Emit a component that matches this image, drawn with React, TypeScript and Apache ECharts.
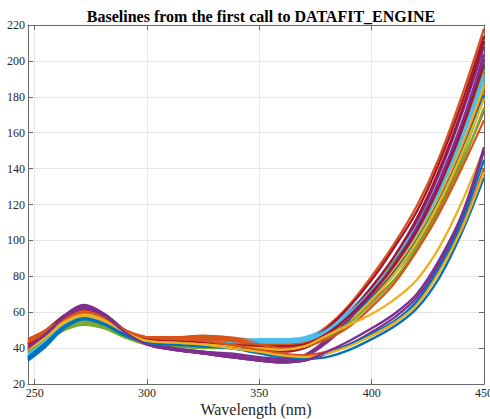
import React, { useEffect, useRef } from "react";
import * as echarts from "echarts";

const titleText = "Baselines from the first call to DATAFIT_ENGINE";
const xAxisName = "Wavelength (nm)";
const xTicks = [250, 300, 350, 400, 450];

const wavelengths = [247, 255, 263, 272, 281, 290, 300, 312, 325, 337, 350, 360, 370, 380, 390, 400, 410, 420, 430, 440, 450];

// Main bundle of baselines (steep rise after 380 nm)
const mainBaselines = [
  [34, 42, 52, 58, 55, 48, 44, 43, 42, 42, 41, 41, 43, 49, 59, 72, 88, 106, 131, 161, 196],
  [45, 50, 57, 61, 57, 50, 46, 46, 47, 46, 44, 43, 45, 52, 64, 80, 98, 119, 146, 180, 218],
  [41, 48, 56, 60, 57, 50, 45, 44, 43, 42, 41, 40, 42, 48, 58, 71, 86, 103, 127, 155, 188],
  [40, 48, 58, 64, 59, 50, 43, 40, 38, 36, 34, 33, 36, 45, 58, 73, 90, 110, 137, 170, 208],
  [38, 44, 50, 53, 51, 46, 42, 41, 40, 40, 39, 39, 41, 46, 55, 67, 81, 97, 119, 146, 180],
  [36, 44, 52, 57, 54, 47, 44, 43, 43, 44, 45, 45, 46, 51, 61, 74, 90, 108, 133, 163, 198],
  [42, 49, 57, 62, 58, 50, 45, 44, 44, 43, 42, 42, 44, 51, 63, 78, 96, 116, 143, 176, 214],
  [35, 43, 53, 59, 55, 48, 43, 42, 41, 41, 40, 40, 42, 48, 58, 71, 86, 104, 128, 158, 192],
  [44, 49, 56, 60, 57, 50, 46, 46, 46, 45, 43, 42, 43, 48, 57, 69, 83, 100, 123, 151, 184],
  [39, 46, 54, 59, 56, 49, 44, 43, 42, 41, 40, 39, 41, 47, 57, 70, 85, 102, 125, 153, 186],
  [39, 47, 57, 63, 58, 49, 42, 39, 37, 35, 33, 32, 35, 43, 55, 70, 86, 105, 131, 163, 201],
  [37, 43, 50, 54, 52, 47, 43, 42, 41, 41, 40, 40, 42, 48, 59, 73, 88, 106, 130, 160, 195],
  [37, 44, 53, 58, 55, 48, 44, 44, 44, 44, 44, 44, 45, 50, 60, 73, 87, 105, 129, 158, 192],
  [43, 50, 58, 63, 58, 50, 45, 43, 42, 41, 39, 38, 40, 47, 59, 74, 91, 112, 139, 172, 211],
  [34, 42, 51, 57, 54, 48, 44, 43, 42, 42, 41, 41, 42, 47, 56, 68, 82, 100, 122, 149, 181],
  [44, 50, 57, 62, 58, 50, 46, 46, 46, 45, 43, 42, 43, 47, 55, 66, 78, 95, 117, 143, 172],
  [40, 47, 55, 60, 57, 50, 45, 44, 43, 42, 41, 40, 41, 46, 55, 67, 81, 99, 121, 148, 179],
  [41, 48, 58, 63, 59, 50, 43, 40, 38, 37, 35, 34, 36, 44, 56, 71, 87, 107, 133, 165, 204],
  [38, 45, 51, 55, 52, 47, 43, 42, 41, 41, 40, 40, 41, 46, 54, 65, 78, 95, 116, 142, 174],
  [36, 44, 52, 57, 54, 48, 44, 43, 43, 43, 43, 43, 44, 49, 59, 72, 86, 104, 127, 156, 190],
  [42, 49, 57, 62, 58, 50, 45, 44, 43, 42, 41, 41, 42, 48, 58, 71, 86, 105, 130, 161, 198],
  [45, 50, 56, 60, 57, 50, 46, 46, 45, 44, 42, 40, 41, 45, 52, 63, 76, 94, 115, 140, 167],
];
const mainColors = ["#0072BD", "#D95319", "#EDB120", "#7E2F8E", "#77AC30", "#4DBEEE", "#A2142F", "#0072BD", "#D95319", "#EDB120", "#7E2F8E", "#77AC30", "#4DBEEE", "#A2142F", "#0072BD", "#D95319", "#EDB120", "#7E2F8E", "#77AC30", "#4DBEEE", "#A2142F", "#D95319"];

// Single intermediate baseline
const middleBaseline = [40, 47, 55, 60, 56, 49, 44, 43, 42, 41, 40, 39, 41, 47, 53, 59, 67, 78, 96, 121, 151];
const middleColor = "#EDB120";

// Late-rising group of baselines
const lowBaselines = [
  [33, 41, 51, 56, 53, 47, 43, 42, 41, 40, 38, 36, 34, 35, 39, 45, 52, 62, 79, 104, 135],
  [39, 47, 57, 62, 58, 49, 42, 39, 37, 35, 33, 32, 33, 37, 42, 49, 57, 68, 87, 112, 150],
  [43, 49, 56, 60, 57, 50, 46, 45, 44, 42, 39, 37, 36, 38, 42, 47, 54, 65, 83, 107, 140],
  [35, 43, 52, 57, 54, 48, 43, 42, 41, 40, 37, 35, 35, 37, 42, 48, 55, 66, 85, 110, 145],
  [39, 46, 54, 58, 55, 49, 44, 43, 42, 40, 38, 36, 35, 37, 41, 47, 54, 64, 82, 106, 138],
  [40, 48, 57, 63, 58, 49, 42, 39, 37, 35, 33, 32, 33, 38, 44, 51, 59, 70, 89, 114, 152],
];
const lowColors = ["#0072BD", "#7E2F8E", "#D95319", "#0072BD", "#EDB120", "#7E2F8E"];

const FONT = "'Liberation Serif', 'Times New Roman', serif";
const TEXT = "#262626";
const AXIS = "#6a6a6a";

function makeSeries(values: number[], color: string) {
  return {
    type: "line",
    data: wavelengths.map((w, i) => [w, values[i]]),
    showSymbol: false,
    symbol: "none",
    smooth: 0.35,
    silent: true,
    lineStyle: { width: 2.3, color },
    itemStyle: { color },
    xAxisIndex: 0,
    yAxisIndex: 0,
  };
}

export default function App() {
  const ref = useRef<HTMLDivElement>(null);
  useEffect(() => {
    if (!ref.current) return;
    const chart = echarts.init(ref.current, undefined, { renderer: "svg" });
    const series: any[] = [];
    mainBaselines.forEach((v, i) => series.push(makeSeries(v, mainColors[i % mainColors.length])));
    series.push(makeSeries(middleBaseline, middleColor));
    lowBaselines.forEach((v, i) => series.push(makeSeries(v, lowColors[i % lowColors.length])));

    chart.setOption({
      animation: false,
      backgroundColor: "#ffffff",
      title: {
        text: titleText,
        left: 256,
        textAlign: "center",
        top: 3,
        textStyle: { fontFamily: FONT, fontWeight: "bold", fontSize: 16, color: "#000" },
      },
      graphic: [
        {
          type: "text",
          x: 256,
          y: 401,
          style: {
            text: xAxisName,
            textAlign: "center",
            textVerticalAlign: "top",
            fontFamily: FONT,
            fontSize: 16,
            fill: TEXT,
          },
        },
      ],
      grid: { left: 28, right: 6, top: 25, bottom: 35, containLabel: false, outerBoundsMode: "none" },
      xAxis: [
        {
          type: "value",
          min: 247,
          max: 450,
          position: "bottom",
          axisLine: { show: true, onZero: false, lineStyle: { color: AXIS, width: 1 } },
          axisTick: { show: true, inside: true, length: 5, customValues: xTicks, lineStyle: { color: AXIS } },
          axisLabel: { customValues: xTicks, fontFamily: FONT, fontSize: 12, color: TEXT, margin: 3 },
          splitLine: { show: true, lineStyle: { color: "#e6e6e6", width: 1 } },
        },
        {
          type: "value",
          min: 247,
          max: 450,
          position: "top",
          axisLine: { show: true, onZero: false, lineStyle: { color: AXIS, width: 1 } },
          axisTick: { show: true, inside: true, length: 5, customValues: xTicks, lineStyle: { color: AXIS } },
          axisLabel: { show: false },
          splitLine: { show: false },
        },
      ],
      yAxis: [
        {
          type: "value",
          min: 20,
          max: 220,
          interval: 20,
          position: "left",
          axisLine: { show: true, onZero: false, lineStyle: { color: AXIS, width: 1 } },
          axisTick: { show: true, inside: true, length: 5, lineStyle: { color: AXIS } },
          axisLabel: { fontFamily: FONT, fontSize: 12, color: TEXT, margin: 3 },
          splitLine: { show: true, lineStyle: { color: "#e6e6e6", width: 1 } },
        },
        {
          type: "value",
          min: 20,
          max: 220,
          interval: 20,
          position: "right",
          axisLine: { show: true, onZero: false, lineStyle: { color: AXIS, width: 1 } },
          axisTick: { show: true, inside: true, length: 5, lineStyle: { color: AXIS } },
          axisLabel: { show: false },
          splitLine: { show: false },
        },
      ],
      series,
    });
    return () => chart.dispose();
  }, []);
  return (
    <div
      ref={ref}
      style={{ position: "fixed", left: 0, top: 0, width: 490, height: 419, background: "#fff" }}
    />
  );
}
